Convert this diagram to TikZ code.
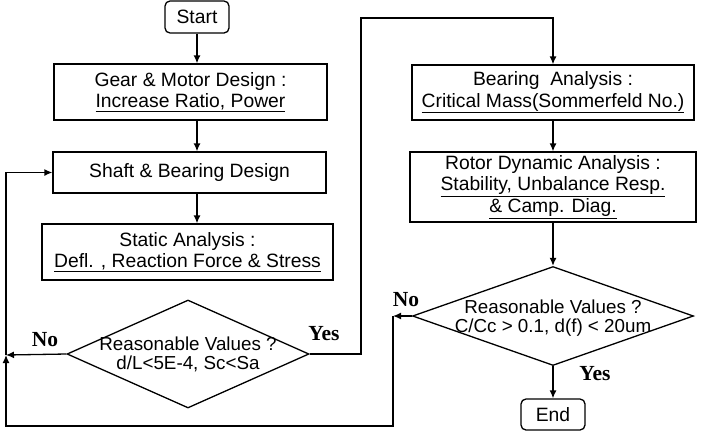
\documentclass[tikz,border=0pt]{standalone}
\usepackage{fontspec}
\setmainfont{Liberation Sans}
\newfontfamily\answerFont{Liberation Serif}
\usetikzlibrary{calc}
\usetikzlibrary{positioning}
\usetikzlibrary{shapes.geometric}
\usetikzlibrary{arrows.meta}
\newcommand{\lineColor}{black}
\newcommand{\lWidth}{1.3pt}
\newcommand{\flatText}[1]{\makebox[0pt]{\raisebox{-6pt}[0pt][0pt]{\begin{tabular}[c]{@{}c@{}}#1\end{tabular}}}}
\tikzset{stepbox/.style = {draw=\lineColor, line width=\lWidth, align=center, inner sep=0pt, font=\fontsize{19.3}{21.5}\selectfont}}
\tikzset{terminal/.style = {stepbox, rounded corners=5pt, minimum width=64pt, minimum height=32pt}}
\tikzset{decision/.style = {diamond, draw=\lineColor, line width=\lWidth, inner sep=0pt, font=\fontsize{18.8}{16.5}\selectfont}}
\tikzset{answer/.style = {inner sep=0pt, font=\answerFont\bfseries\fontsize{21.5}{21}\selectfont}}
\tikzset{flow/.style = {\lineColor, line width=\lWidth, -{Latex[length=8pt,width=7pt]}}}

\begin{document}
\begin{tikzpicture}[x=1pt, y=-1pt]
    \useasboundingbox (0,0) rectangle (706,432);

    % left column
    \node[terminal] (start) at (197,17) {Start};
    \node[stepbox, minimum width=273pt, minimum height=56pt] (gear) at (190.5,92)
        {Gear \& Motor Design :\\ \underline{Increase Ratio, Power}};
    \node[stepbox, minimum width=273pt, minimum height=41pt] (shaft) at (189.5,172.5)
        {Shaft \& Bearing Design};
    \node[stepbox, minimum width=291pt, minimum height=56pt] (static) at (187.5,252)
        {Static Analysis :\\ \underline{Defl. , Reaction Force \& Stress}};
    \node[decision, minimum width=242pt, minimum height=108pt] (dec1) at (188,354)
        {\flatText{Reasonable Values ?\\ d/L<5E-4, Sc<Sa}};

    % right column
    \node[stepbox, minimum width=282pt, minimum height=55pt] (bearing) at (553,92.5)
        {Bearing\ \ Analysis :\\ \underline{Critical Mass(Sommerfeld No.)}};
    \node[stepbox, minimum width=286pt, minimum height=70pt] (rotor) at (553,187)
        {Rotor Dynamic Analysis :\\ \underline{Stability, Unbalance Resp.}\\ \underline{\& Camp. Diag.}};
    \node[decision, minimum width=281pt, minimum height=99pt] (dec2) at (553,316)
        {\raisebox{-2pt}{\flatText{Reasonable Values ?\\ C/Cc > 0.1, d(f) < 20um}}};
    \node[terminal, minimum height=31pt] (end) at (553,414.5) {End};

    \node[answer] (no1) at (45,340) {No};
    \node[answer] (yes1) at (324,334) {Yes};
    \node[answer] (no2) at (406,300) {No};
    \node[answer] (yes2) at (595,374) {Yes};

    \coordinate (top) at (361,18);
    \coordinate (lj) at (6,355);
    \coordinate (rj) at (393,316);
    \coordinate (low) at (6,426);

    \draw[flow] (start.south) -- (start.south |- gear.north);
    \draw[flow] (start.south |- gear.south) -- (start.south |- shaft.north);
    \draw[flow] (start.south |- shaft.south) -- (start.south |- static.north);
    \draw[flow] (dec1.east) -| (top) -| (bearing.north);
    \draw[flow] (dec1.west) -- (lj);
    \draw[flow] (lj) |- (shaft.west);

    \draw[flow] (bearing.south) -- (rotor.north);
    \draw[flow] (rotor.south) -- (dec2.north);
    \draw[flow] (dec2.south) -- (end.north);
    \draw[flow] (dec2.west) -- (rj);
    \draw[flow] (rj) -- (rj |- low) -- (low) -- (lj);
\end{tikzpicture}
\end{document}
